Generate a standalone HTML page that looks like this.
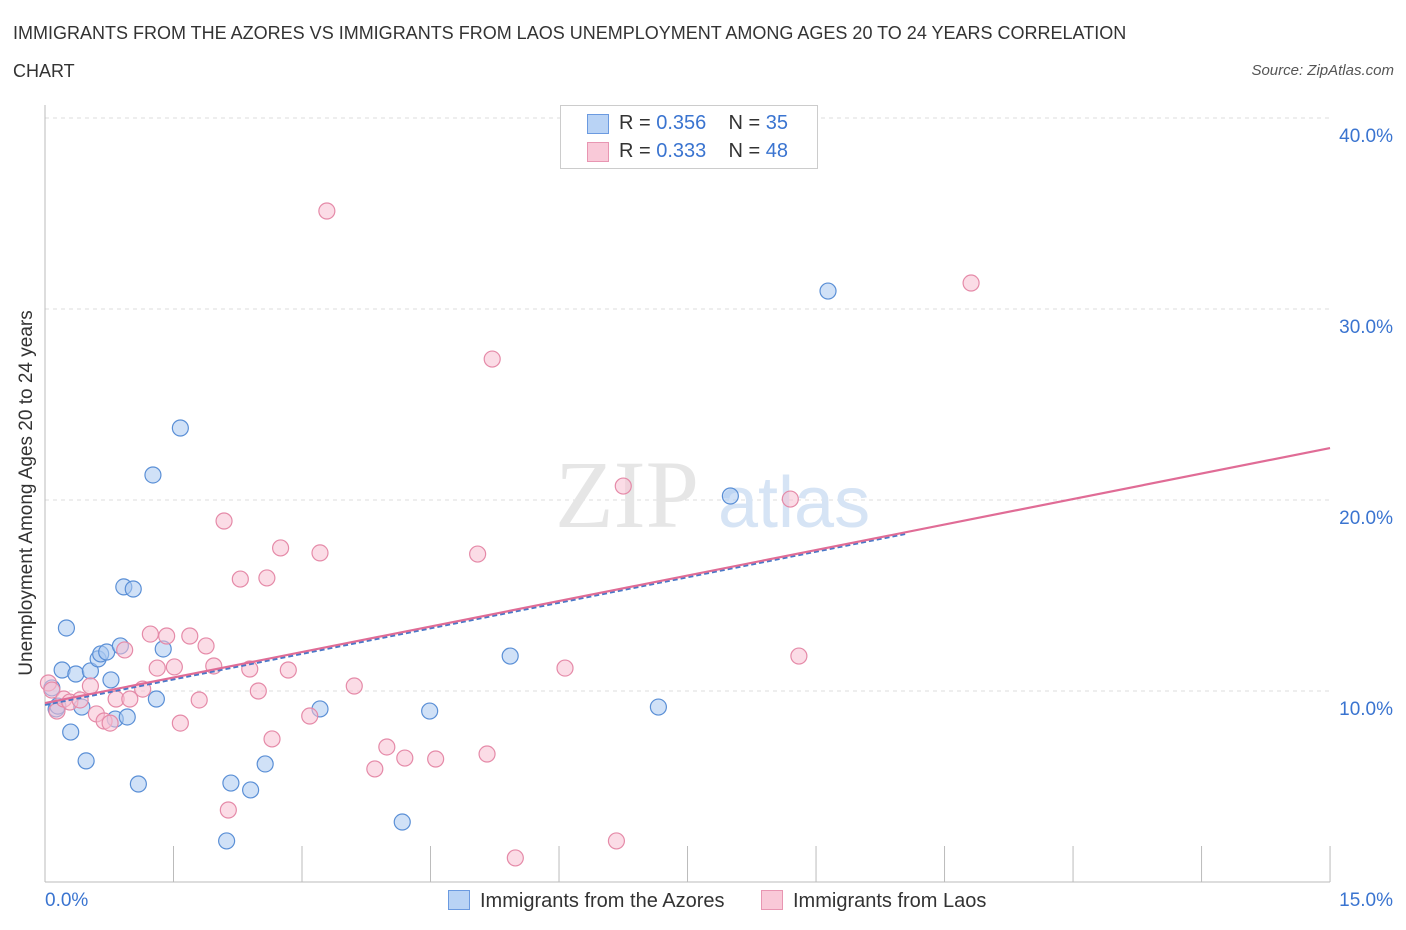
<!DOCTYPE html>
<html><head><meta charset="utf-8"><style>
body{margin:0;background:#fff;font-family:"Liberation Sans",sans-serif;}
#wrap{position:relative;width:1406px;height:930px;}
.t{position:absolute;white-space:nowrap;}
</style></head><body>
<div id="wrap">
<div class="t" style="left:13px;top:14px;font-size:18px;color:#333;line-height:38px;">IMMIGRANTS FROM THE AZORES VS IMMIGRANTS FROM LAOS UNEMPLOYMENT AMONG AGES 20 TO 24 YEARS CORRELATION<br>CHART</div>
<div class="t" style="right:12px;top:62px;font-size:15px;color:#555;font-style:italic;">Source: ZipAtlas.com</div>
<svg id="chart" width="1406" height="930" style="position:absolute;left:0;top:0"></svg>
</div>
<script>
const yTicks=[10,20,30,40];
const xTickCount=11;
const blueX=[0.08,0.13,0.20,0.25,0.30,0.36,0.43,0.48,0.53,0.62,0.65,0.72,0.77,0.82,0.88,0.92,0.96,1.03,1.09,1.26,1.30,1.38,1.58,2.17,2.12,2.40,2.57,3.21,4.17,4.49,5.43,7.16,8.00,9.14,0.15];
const blueY=[10.16,9.06,11.10,13.30,7.85,10.89,9.16,6.34,11.05,11.68,11.94,12.04,10.58,8.53,12.36,15.45,8.64,15.34,5.13,21.31,9.58,12.20,23.77,5.18,2.15,4.82,6.18,9.06,3.14,8.95,11.83,9.16,20.21,30.94,9.21];
const pinkX=[0.04,0.08,0.14,0.22,0.29,0.41,0.53,0.60,0.69,0.76,0.83,0.93,0.99,1.14,1.23,1.31,1.42,1.51,1.58,1.69,1.80,1.88,1.97,2.09,2.14,2.28,2.39,2.49,2.59,2.65,2.75,2.84,3.09,3.21,3.29,3.61,3.85,3.99,4.20,4.56,5.05,5.16,5.22,5.49,6.07,6.67,6.75,8.70,8.80,10.81];
const pinkY=[10.42,10.05,8.95,9.58,9.42,9.53,10.26,8.80,8.43,8.32,9.58,12.15,9.58,10.10,12.98,11.20,12.88,11.26,8.32,12.88,9.53,12.36,11.31,18.90,3.77,15.86,11.15,10.00,15.92,7.49,17.49,11.10,8.69,17.23,35.13,10.26,5.92,7.07,6.49,6.44,17.17,6.70,27.38,1.26,11.20,2.15,20.73,20.05,11.83,31.36];
const blueTrend=[[0,9.27],[10.04,18.22]];
const pinkTrend=[[0,9.37],[15,22.72]];
const X=v=>45+v*85.67, Y=v=>882-v*19.1;
const svg=document.getElementById('chart');const NS='http://www.w3.org/2000/svg';
function mk(tag,attrs){const e=document.createElementNS(NS,tag);for(const k in attrs)e.setAttribute(k,attrs[k]);svg.appendChild(e);return e;}
yTicks.forEach(v=>{
 const g=mk('line',{x1:45,x2:1330,y1:Y(v),y2:Y(v),stroke:'#ddd','stroke-dasharray':'4,4'});
 
 
 const t=mk('text',{x:1393,y:Y(v)+24,'text-anchor':'end','font-size':19,fill:'#3a74d0','font-family':'Liberation Sans'});
 t.textContent=v.toFixed(1)+'%';
 
 
});
const ax=mk('line',{x1:45,x2:45,y1:105,y2:882,stroke:'#bbb'});


const bx=mk('line',{x1:45,x2:1330,y1:882,y2:882,stroke:'#bbb'});


for(let i=0;i<xTickCount;i++){
 const tk=mk('line',{x1:X(i*1.5),x2:X(i*1.5),y1:846,y2:882,stroke:'#bbb'});
 
 
}
const wm=mk('text',{x:555,y:527,'font-size':96,fill:'#e6e6e6','font-family':'Liberation Serif'});wm.textContent='ZIP';


const wm2=mk('text',{x:718,y:527,'font-size':72,fill:'#d6e4f5','font-family':'Liberation Sans'});wm2.textContent='atlas';


function pts(xs,ys,fill,stroke,name){xs.forEach((x,i)=>{
 const c=mk('circle',{cx:X(x),cy:Y(ys[i]),r:8,fill:fill,stroke:stroke,'stroke-width':1.2,'fill-opacity':0.55});
 
 
});}
pts(blueX,blueY,'#a9c8f0','#5a8fd6','azores-point');
pts(pinkX,pinkY,'#f8c0d2','#e58aa8','laos-point');
const bl=mk('line',{x1:X(blueTrend[0][0]),y1:Y(blueTrend[0][1]),x2:X(blueTrend[1][0]),y2:Y(blueTrend[1][1]),stroke:'#4a78c8','stroke-width':2,'stroke-dasharray':'5,3'});


const pl=mk('line',{x1:X(pinkTrend[0][0]),y1:Y(pinkTrend[0][1]),x2:X(pinkTrend[1][0]),y2:Y(pinkTrend[1][1]),stroke:'#e06c96','stroke-width':2.2});


</script>
<div class="t" style="left:45px;top:890px;font-size:19px;color:#3a74d0;">0.0%</div>
<div class="t" style="right:13px;top:890px;font-size:19px;color:#3a74d0;">15.0%</div>
<div class="t" style="left:27px;top:493px;font-size:19px;color:#333;transform:translate(-50%,-50%) rotate(-90deg);">Unemployment Among Ages 20 to 24 years</div>
<div style="position:absolute;left:560px;top:105px;width:256px;height:62px;border:1px solid #ccc;background:#fff;font-size:20px;color:#333;">
 <div style="position:absolute;left:26px;top:8px;width:20px;height:18px;background:#b9d3f5;border:1px solid #6b9ae0;"></div>
 <div class="t" style="left:58px;top:6px;">R = <span style="color:#3a74d0">0.356</span>&nbsp;&nbsp;&nbsp; N = <span style="color:#3a74d0">35</span></div>
 <div style="position:absolute;left:26px;top:36px;width:20px;height:18px;background:#f9c9d8;border:1px solid #e896b2;"></div>
 <div class="t" style="left:58px;top:34px;">R = <span style="color:#3a74d0">0.333</span>&nbsp;&nbsp;&nbsp; N = <span style="color:#3a74d0">48</span></div>
</div>
<div style="position:absolute;left:448px;top:890px;font-size:20px;color:#333;">
 <span style="display:inline-block;width:20px;height:18px;background:#b9d3f5;border:1px solid #6b9ae0;vertical-align:-3px;margin-right:10px"></span>Immigrants from the Azores</div>
<div style="position:absolute;left:761px;top:890px;font-size:20px;color:#333;">
 <span style="display:inline-block;width:20px;height:18px;background:#f9c9d8;border:1px solid #e896b2;vertical-align:-3px;margin-right:10px"></span>Immigrants from Laos</div>
</body></html>
